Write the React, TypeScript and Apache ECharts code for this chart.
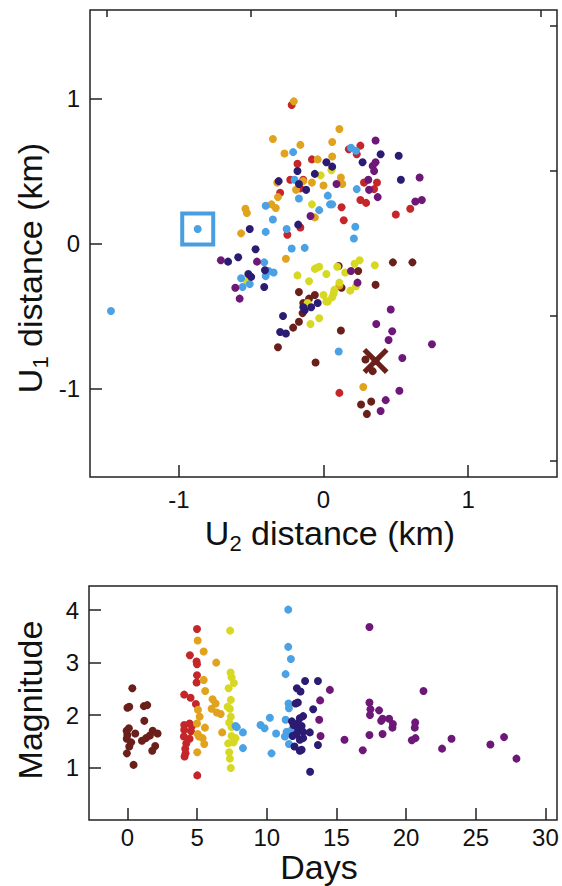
import React, { useEffect, useRef } from "react";
import * as echarts from "echarts";

const FONT = "'Liberation Sans', Arial, Helvetica, sans-serif";

const groupColors = ["#6A1F1B", "#C4262A", "#E1A21E", "#D7D822", "#4AA1E3", "#2B1B73", "#6D1878"];

// Top panel: [U2 distance (km), U1 distance (km)]
const topBrown = [[-0.17,-0.335],[-0.06,-0.355],[-0.14,-0.41],[-0.145,-0.48],[-0.17,-0.54],[-0.21,-0.58],[-0.315,-0.715],[-0.055,-0.82],[0.48,-0.13],[0.615,-0.13],[0.105,-0.155],[0.24,-0.19],[0.36,-0.285],[0.125,-0.305],[0.12,-0.6],[0.29,-0.8],[0.34,-0.88],[0.36,-0.81],[0.26,-1.11],[0.33,-1.09],[0.3,-1.175],[-0.1,-0.38]];
const topRed = [[-0.22,0.955],[-0.08,0.58],[-0.18,0.55],[-0.23,0.44],[-0.14,0.44],[-0.16,0.38],[-0.3,0.35],[-0.16,0.11],[-0.25,0.06],[0.255,0.675],[0.175,0.65],[0.23,0.615],[0.28,0.42],[0.37,0.42],[0.35,0.375],[0.255,0.3],[0.295,0.28],[0.125,0.25],[0.14,0.16],[0.6,0.24],[0.5,0.2],[0.11,-1.03]];
const topOrange = [[-0.205,0.98],[-0.35,0.72],[-0.16,0.68],[-0.27,0.62],[-0.04,0.58],[-0.32,0.42],[-0.14,0.43],[-0.08,0.42],[0.0,0.4],[-0.19,0.37],[-0.315,0.32],[-0.36,0.27],[-0.33,0.245],[-0.54,0.24],[-0.53,0.21],[-0.06,0.18],[-0.57,0.07],[-0.26,-0.105],[0.11,0.79],[0.06,0.7],[0.06,0.6],[0.12,0.455],[0.13,0.41],[0.11,-0.29],[0.275,-0.99]];
const topYellow = [[-0.02,0.47],[-0.08,0.27],[0.055,0.505],[-0.18,-0.22],[-0.05,-0.17],[-0.03,-0.16],[0.02,-0.21],[-0.1,-0.26],[0.0,-0.355],[0.02,-0.4],[-0.11,-0.41],[-0.03,-0.515],[-0.09,-0.555],[-0.53,-0.26],[0.355,-0.15],[0.25,-0.115],[0.215,-0.14],[0.095,-0.16],[0.15,-0.2],[-0.06,-0.175],[0.185,-0.325],[0.225,-0.295],[0.11,-0.27],[0.075,-0.32],[0.07,-0.345],[0.06,-0.37],[0.03,-0.4]];
const topBlue = [[-0.21,0.63],[-0.2,0.44],[-0.17,0.31],[0.03,0.33],[0.045,0.27],[-0.03,0.23],[-0.4,0.26],[-0.35,0.165],[-0.87,0.1],[-0.4,0.08],[-0.255,0.1],[-0.22,-0.035],[-0.13,-0.03],[-0.41,-0.13],[-0.345,-0.2],[-0.57,-0.24],[-0.4,-0.225],[-1.47,-0.465],[-0.51,-0.28],[-0.56,-0.3],[0.19,0.66],[0.225,0.64],[0.23,0.375],[0.06,0.27],[0.22,0.115],[0.21,0.035],[0.105,-0.745],[-0.38,-0.19]];
const topNavy = [[0.02,0.56],[-0.18,0.5],[-0.06,0.48],[-0.31,0.43],[-0.17,0.41],[-0.12,0.37],[-0.51,0.1],[-0.175,0.13],[-0.47,-0.04],[-0.66,-0.125],[-0.59,-0.095],[-0.405,-0.185],[-0.52,-0.21],[-0.5,-0.23],[-0.41,-0.3],[-0.14,-0.44],[-0.085,-0.44],[-0.04,-0.41],[-0.13,-0.46],[-0.28,-0.5],[-0.3,-0.61],[-0.26,-0.62],[0.395,0.615],[0.52,0.605],[0.06,0.53],[0.27,0.56],[0.535,0.44]];
const topPurple = [[-0.09,0.19],[-0.71,-0.115],[-0.46,-0.125],[-0.61,-0.305],[-0.58,-0.38],[0.36,0.71],[0.36,0.56],[0.34,0.535],[0.35,0.5],[0.09,0.41],[0.665,0.455],[0.31,0.44],[0.315,0.37],[0.375,0.32],[0.635,0.29],[0.68,0.3],[0.19,-0.19],[0.235,-0.27],[0.465,-0.455],[0.365,-0.555],[0.475,-0.605],[0.45,-0.665],[0.75,-0.695],[0.545,-0.79],[0.525,-1.015],[0.43,-1.08],[0.395,-1.155]];

const highlightPoint = [[-0.87, 0.1]];
const mainshockPoint = [[0.36, -0.81]];

// Bottom panel: [Days, Magnitude]
const magBrown = [[0.35,2.51],[0.0,2.14],[0.13,2.16],[1.18,2.17],[1.42,2.19],[1.21,1.89],[-0.06,1.7],[-0.01,1.62],[0.56,1.65],[0.27,1.48],[0.13,1.4],[-0.04,1.27],[1.04,1.51],[1.33,1.56],[1.61,1.61],[1.81,1.7],[2.16,1.65],[1.99,1.41],[1.78,1.32],[0.44,1.05],[-0.05,1.55],[0.1,1.75]];
const magRed = [[4.99,3.64],[4.48,3.14],[4.96,3.02],[4.99,2.97],[4.99,2.76],[4.96,2.62],[4.07,2.39],[4.53,2.33],[4.91,2.21],[4.07,1.81],[4.46,1.84],[4.63,1.79],[4.07,1.72],[4.56,1.69],[4.05,1.59],[4.46,1.55],[4.22,1.46],[4.15,1.36],[4.17,1.27],[4.1,1.21],[5.01,0.85]];
const magOrange = [[5.04,3.42],[5.47,3.21],[6.37,3.0],[5.47,2.67],[5.58,2.46],[6.11,2.3],[6.33,2.22],[6.04,2.12],[6.42,2.05],[6.69,2.02],[5.06,2.1],[5.18,1.97],[4.99,1.84],[5.56,1.76],[5.04,1.64],[5.13,1.59],[5.39,1.56],[5.51,1.45],[6.8,1.67],[5.01,1.29]];
const magYellow = [[7.37,3.61],[7.4,2.81],[7.47,2.72],[7.64,2.61],[7.26,2.51],[7.42,2.29],[7.19,2.16],[7.35,2.12],[7.42,1.97],[7.3,1.86],[7.47,1.77],[7.76,1.56],[7.47,1.6],[7.62,1.48],[7.23,1.46],[7.3,1.29],[7.35,1.17],[7.42,0.99]];
const magBlue = [[11.54,4.01],[11.54,3.3],[11.73,3.07],[11.35,2.78],[11.56,2.22],[11.59,2.13],[10.22,1.95],[11.35,1.91],[9.55,1.81],[9.84,1.75],[10.67,1.65],[7.76,1.79],[7.85,1.77],[8.29,1.67],[8.29,1.37],[10.34,1.27],[11.42,1.68],[11.3,1.59],[11.59,1.45],[11.8,1.72]];
const magNavy = [[12.75,2.65],[13.67,2.65],[12.16,2.51],[12.42,2.45],[12.07,2.22],[12.23,2.24],[13.33,2.11],[12.61,1.98],[12.37,1.94],[11.8,1.88],[11.92,1.81],[12.21,1.84],[12.5,1.79],[12.25,1.73],[12.61,1.68],[12.13,1.64],[13.09,1.67],[11.85,1.6],[12.37,1.53],[12.61,1.56],[11.99,1.4],[12.37,1.32],[13.67,1.43],[13.11,0.92],[12.5,1.34]];
const magPurple = [[14.53,2.48],[13.83,2.28],[13.76,1.91],[13.86,1.6],[15.58,1.53],[17.37,3.68],[17.37,2.24],[17.44,2.11],[17.41,2.0],[18.06,2.09],[18.21,1.89],[18.31,1.93],[18.78,1.93],[19.05,1.83],[19.02,1.76],[17.37,1.62],[18.31,1.64],[16.89,1.33],[20.65,1.86],[20.62,1.76],[20.41,1.52],[20.67,1.56],[21.25,2.46],[23.26,1.55],[22.58,1.36],[26.05,1.44],[27.03,1.58],[27.92,1.17]];

const topMajorTicks = [-1, 0, 1];
const topMinorTicks = [-1.5, -0.5, 0.5, 1.5];
const dayTicks = [0, 5, 10, 15, 20, 25, 30];
const magTicks = [1, 2, 3, 4];

const topGroups = [topBrown, topRed, topOrange, topYellow, topBlue, topNavy, topPurple];
const magGroups = [magBrown, magRed, magOrange, magYellow, magBlue, magNavy, magPurple];

const X_SYMBOL = "path://M0,1.4 L1.4,0 L5,3.6 L8.6,0 L10,1.4 L6.4,5 L10,8.6 L8.6,10 L5,6.4 L1.4,10 L0,8.6 L3.6,5 Z";

function makeAxis(gridIndex: number, min: number, max: number, ticks: number[], len: number, labels: boolean, margin = 10) {
  return {
    type: "value",
    gridIndex,
    min,
    max,
    axisLine: { show: false, onZero: false },
    axisTick: {
      show: true,
      inside: true,
      length: len,
      customValues: ticks,
      lineStyle: { color: "#222", width: 1.5 },
    },
    axisLabel: labels
      ? { show: true, customValues: ticks, fontSize: 24, lineHeight: 24, color: "#111", fontFamily: FONT, margin }
      : { show: false },
    splitLine: { show: false },
    minorTick: { show: false },
  };
}

function nameText(x: number, y: number, main: string, sub: string, rest: string, rotate: boolean) {
  const text = sub ? `{a|${main}}{s|${sub}}{a|${rest}}` : `{a|${main}}`;
  return {
    type: "text",
    x,
    y,
    rotation: rotate ? Math.PI / 2 : 0,
    silent: true,
    style: {
      text,
      align: "center",
      verticalAlign: "middle",
      fill: "#111",
      rich: {
        a: { fontSize: 34, lineHeight: 30, fontFamily: FONT, fill: "#111" },
        s: { fontSize: 22, fontFamily: FONT, fill: "#111", padding: [20, 0, 0, 0] },
      },
    },
  };
}

export default function App() {
  const ref = useRef<HTMLDivElement>(null);
  useEffect(() => {
    if (!ref.current) return;
    const chart = echarts.init(ref.current, null, { renderer: "svg" });
    const series: any[] = [];
    topGroups.forEach((d, i) => {
      series.push({
        type: "scatter",
        xAxisIndex: 0,
        yAxisIndex: 0,
        data: d,
        symbolSize: 8,
        itemStyle: { color: groupColors[i], opacity: 1 },
        silent: true,
      });
    });
    series.push({
      type: "scatter",
      xAxisIndex: 0,
      yAxisIndex: 0,
      data: highlightPoint,
      symbol: "rect",
      symbolSize: 31,
      itemStyle: { color: "rgba(0,0,0,0)", borderColor: "#4A9EE0", borderWidth: 4, opacity: 1 },
      silent: true,
      z: 5,
    });
    series.push({
      type: "scatter",
      xAxisIndex: 0,
      yAxisIndex: 0,
      data: mainshockPoint,
      symbol: X_SYMBOL,
      symbolSize: 26,
      itemStyle: { color: "#6A1F1B", opacity: 1 },
      silent: true,
      z: 5,
    });
    magGroups.forEach((d, i) => {
      series.push({
        type: "scatter",
        xAxisIndex: 2,
        yAxisIndex: 2,
        data: d,
        symbolSize: 8,
        itemStyle: { color: groupColors[i], opacity: 1 },
        silent: true,
      });
    });

    chart.setOption({
      animation: false,
      backgroundColor: "#ffffff",
      grid: [
        { left: 90, top: 10, width: 467, height: 467, show: true, borderColor: "#222", borderWidth: 1.5, backgroundColor: "transparent" },
        { left: 89, top: 586, width: 468, height: 234, show: true, borderColor: "#222", borderWidth: 1.5, backgroundColor: "transparent" },
      ],
      xAxis: [
        makeAxis(0, -1.615, 1.615, topMajorTicks, 12, true),
        makeAxis(0, -1.615, 1.615, topMinorTicks, 7, false),
        makeAxis(1, -2.76, 30.83, dayTicks, 12, true, 5),
      ],
      yAxis: [
        makeAxis(0, -1.61, 1.61, topMajorTicks, 12, true),
        makeAxis(0, -1.61, 1.61, topMinorTicks, 7, false),
        makeAxis(1, 0, 4.46, magTicks, 12, true),
      ],
      series,
      graphic: [
        nameText(330, 533, "U", "2", " distance (km)", false),
        nameText(30, 268, "U", "1", " distance (km)", true),
        nameText(30, 700, "Magnitude", "", "", true),
        nameText(319, 867, "Days", "", "", false),
      ],
    });
    return () => chart.dispose();
  }, []);
  return <div ref={ref} style={{ position: "fixed", left: 0, top: 0, width: 562, height: 886 }} />;
}
